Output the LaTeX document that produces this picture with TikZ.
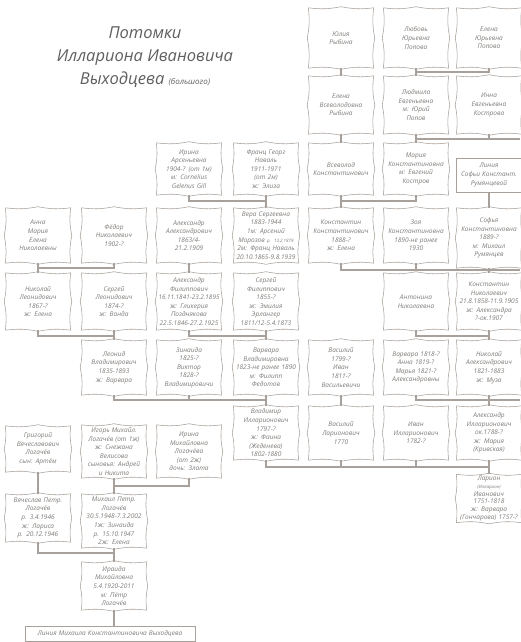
\documentclass[tikz,border=0pt]{standalone}
\usepackage{fontspec}
\setmainfont{Open Sans}
\usepackage{graphicx}
\definecolor{ln}{RGB}{168,160,154}
\definecolor{tx}{RGB}{128,124,120}
\definecolor{tt}{RGB}{95,95,95}
\newsavebox\fitbox
\newcommand\fl[1]{\sbox\fitbox{#1}\ifdim\wd\fitbox>61pt\resizebox{61pt}{!}{\usebox\fitbox}\else\usebox\fitbox\fi}
\newcommand\scroll[1]{%
  \draw[frame] (#1.north west) to[bend right=9] ([yshift=1.1pt]#1.north) to[bend right=9] (#1.north east)
    to[bend right=9] ([xshift=1.1pt]#1.east) to[bend right=9] (#1.south east)
    to[bend right=9] ([yshift=-1.1pt]#1.south) to[bend right=9] (#1.south west)
    to[bend right=9] ([xshift=-1.1pt]#1.west) to[bend right=9] (#1.north west);}
\begin{document}
\begin{tikzpicture}[x=1pt,y=-1pt,
  pbox/.style={text width=62pt, minimum width=65pt, inner sep=1pt, align=center, text=tx,
    font=\fontsize{6.5}{8.6}\selectfont\itshape},
  lbox/.style={pbox, draw=ln, line width=0.6pt},
  conn/.style={draw=ln, line width=1.1pt},
  frame/.style={draw=ln, line width=0.55pt},
  titlestyle/.style={align=center, text=tt, font=\fontsize{16.5}{23}\selectfont\itshape}]
\fill[white] (0,0) rectangle (520,642);
\useasboundingbox (0,0) rectangle (520,642);

% title
\node[titlestyle] (title) at (145,57) {Потомки\\Иллариона Ивановича\\Выходцева {\fontsize{8}{10}\selectfont (большого)}};

% row 1
\node[pbox, minimum height=60pt] (julia) at (341,38) {Юлия\\Рыбина};
\node[pbox, minimum height=60pt] (lyubov) at (416,38) {Любовь\\Юрьевна\\Попова};
\node[pbox, minimum height=60pt] (elenaYu) at (489,38) {Елена\\Юрьевна\\Попова};
% row 2
\node[pbox, minimum height=58pt] (elenaV) at (341,105) {Елена\\Всеволодовна\\Рыбина};
\node[pbox, minimum height=58pt] (lyudmila) at (416,105) {Людмила\\Евгеньевна\\м: Юрий\\Попов};
\node[pbox, minimum height=58pt] (inna) at (489,105) {Инна\\Евгеньевна\\Кострова};
% row 3
\node[pbox, minimum height=52pt] (irina) at (189,169) {Ирина\\Арсеньевна\\1904-? (от 1м)\\м: Cornelius\\Gelenus Gill};
\node[pbox, minimum height=52pt] (franz) at (266,169) {Франц Георг\\Наваль\\1911-1971\\(от 2м)\\ж: Элиза};
\node[pbox, minimum height=52pt] (vsevolod) at (341,169) {Всеволод\\Константинович};
\node[pbox, minimum height=52pt] (maria) at (416,169) {Мария\\Константиновна\\м: Евгений\\Костров};
\node[lbox, minimum height=34pt] (liniyaS) at (489,175) {Линия\\Софьи Констант.\\Румянцевой};
% row 4
\node[pbox, minimum height=55pt] (anna) at (38,235.5) {Анна\\Мария\\Елена\\Николаевны};
\node[pbox, minimum height=55pt] (fedor) at (114,235.5) {Фёдор\\Николаевич\\1902-?};
\node[pbox, minimum height=55pt] (alexA) at (189,235.5) {Александр\\Александрович\\1863/4-\\21.2.1909};
\node[pbox, minimum height=55pt] (vera) at (266,235.5) {Вера Сергеевна\\1883-1944\\1м: Арсений\\\fl{Морозов {\fontsize{4.5}{5}\selectfont р. 13.2.1879}}\\\fl{2м: Франц Наваль}\\\fl{20.10.1865-9.8.1939}};
\node[pbox, minimum height=55pt] (konstK) at (341,235.5) {Константин\\Константинович\\1888-?\\ж: Елена};
\node[pbox, minimum height=55pt] (zoya) at (416,235.5) {Зоя\\Константиновна\\1890-не ранее\\1930};
\node[pbox, minimum height=60pt] (sofya) at (489,238) {Софья\\Константиновна\\1889-?\\м: Михаил\\Румянцев};
% row 5
\node[pbox, minimum height=57pt] (nikolayL) at (38,301.5) {Николай\\Леонидович\\1867-?\\ж: Елена};
\node[pbox, minimum height=57pt] (sergeyL) at (114,301.5) {Сергей\\Леонидович\\1874-?\\ж: Ванда};
\node[pbox, minimum height=57pt] (alexF) at (189,301.5) {Александр\\Филиппович\\\fl{16.11.1841-23.2.1895}\\ж: Гликерия\\Позднякова\\\fl{22.5.1846-27.2.1925}};
\node[pbox, minimum height=57pt] (sergeyF) at (266,301.5) {Сергей\\Филиппович\\1855-?\\ж: Эмилия\\Эрлангер\\\fl{1811/12-5.4.1873}};
\node[pbox, minimum height=57pt] (antonina) at (416,301.5) {Антонина\\Николаевна};
\node[pbox, minimum height=57pt] (konstN) at (489,301.5) {Константин\\Николаевич\\\fl{21.8.1858-11.9.1905}\\ж: Александра\\?-ок.1907};
% row 6
\node[pbox, minimum height=55pt] (leonid) at (114,367.5) {Леонид\\Владимирович\\1835-1893\\ж: Варвара};
\node[pbox, minimum height=55pt] (zinaida) at (189,367.5) {Зинаида\\1825-?\\Виктор\\1828-?\\Владимировичи};
\node[pbox, minimum height=55pt] (varvaraV) at (266,367.5) {Варвара\\Владимировна\\\fl{1823-не ранее 1890}\\м: Филипп\\Федотов};
\node[pbox, minimum height=55pt] (vasily) at (341,367.5) {Василий\\1799-?\\Иван\\1811-?\\Васильевичи};
\node[pbox, minimum height=55pt] (varvaraA) at (416,367.5) {Варвара 1818-?\\Анна 1819-?\\Марья 1821-?\\Александровны};
\node[pbox, minimum height=55pt] (nikolayA) at (489,367.5) {Николай\\Александрович\\1821-1883\\ж: Муза};
% row 7
\node[pbox, minimum height=54pt] (vladimir) at (266,433) {Владимир\\Илларионович\\1797-?\\ж: Фаина\\(Жеденева)\\1802-1880};
\node[pbox, minimum height=54pt] (vasilyL) at (341,433) {Василий\\Ларионович\\1770};
\node[pbox, minimum height=54pt] (ivan) at (416,433) {Иван\\Илларионович\\1782-?};
\node[pbox, minimum height=54pt] (alexI) at (489,433) {Александр\\Илларионович\\ок.1788-?\\ж: Мария\\(Кривская)};
% left lower block
\node[pbox, minimum height=46pt] (grigory) at (38,449) {Григорий\\Вячеславович\\Логачёв\\сын: Артём};
\node[pbox, minimum height=53pt] (igor) at (114,451.5) {Игорь Михайл.\\\fl{Логачёв (от 1ж)}\\ж: Снежана\\Велисова\\\fl{сыновья: Андрей}\\и Никита};
\node[pbox, minimum height=53pt] (irinaM) at (189,451.5) {Ирина\\Михайловна\\Логачёва\\(от 2ж)\\дочь: Злата};
\node[pbox, minimum height=48pt, font=\fontsize{6.5}{7.8}\selectfont\itshape] (larion) at (489,498.5) {Ларион\\{\fontsize{4.5}{5}\selectfont (Илларион)}\\Иванович\\1751-1818\\ж: Варвара\\\fl{(Гончарова) 1757-?}};
\node[pbox, minimum height=48pt] (vyach) at (38,518) {Вячеслав Петр.\\Логачёв\\р. 3.4.1946\\ж: Лариса\\р. 20.12.1946};
\node[pbox, minimum height=54pt] (mikhail) at (114,521) {Михаил Петр.\\Логачёв\\\fl{30.5.1948-7.3.2002}\\1ж: Зинаида\\р. 15.10.1947\\2ж: Елена};
\node[pbox, minimum height=48pt] (iraida) at (114,586) {Ираида\\Михайловна\\5.4.1920-2011\\м: Пётр\\Логачёв};
\node[lbox, text width=168pt, minimum width=170pt, minimum height=15pt, inner sep=1pt] (liniyaM) at (110,633.5) {Линия Михаила Константиновича Выходцева};

% scroll frames
\foreach \n in {julia,lyubov,elenaYu,elenaV,lyudmila,inna,irina,franz,vsevolod,maria,
  anna,fedor,alexA,vera,konstK,zoya,sofya,nikolayL,sergeyL,alexF,sergeyF,antonina,konstN,
  leonid,zinaida,varvaraV,vasily,varvaraA,nikolayA,vladimir,vasilyL,ivan,alexI,
  grigory,igor,irinaM,larion,vyach,mikhail,iraida}{\scroll{\n}}

% junction coordinates
\coordinate (j1) at (416,72);
\coordinate (e0) at (520,139);
\coordinate (j3) at (266,201);
\coordinate (j4) at (341,201);
\coordinate (j5) at (38,268);
\coordinate (e1) at (520,270);
\coordinate (j6) at (114,336);
\coordinate (j7) at (266,336);
\coordinate (j8) at (489,336);
\coordinate (j9) at (266,400);
\coordinate (e2) at (520,400);
\coordinate (j10) at (489,467);
\coordinate (j11) at (114,486);
\coordinate (j12) at (114,553);

% connectors
\draw[conn] (julia.south) -- (elenaV.north);
\draw[conn] (lyubov.south) -- (lyudmila.north);
\draw[conn] (elenaYu.south) |- (j1);
\draw[conn] (elenaV.south) -- (vsevolod.north);
\draw[conn] (lyudmila.south) -- (maria.north);
\draw[conn] (maria.north) |- (e0);
\draw[conn] (inna.south) -- (inna.south |- e0);
\draw[conn] (irina.south) |- (j3);
\draw[conn] (franz.south) -- (vera.north);
\draw[conn] (vsevolod.south) -- (konstK.north);
\draw[conn] (maria.south) |- (j4);
\draw[conn] (liniyaS.south) -- (sofya.north);
\draw[conn] (anna.south) -- (nikolayL.north);
\draw[conn] (fedor.south) |- (j5);
\draw[conn] (alexA.south) -- (alexF.north);
\draw[conn] (konstK.south) |- (e1);
\draw[conn] (zoya.south) -- (zoya.south |- e1);
\draw[conn] (sofya.south) -- (konstN.north);
\draw[conn] (nikolayL.south) |- (j6);
\draw[conn] (sergeyL.south) -- (leonid.north);
\draw[conn] (alexF.south) |- (j7);
\draw[conn] (sergeyF.south) -- (varvaraV.north);
\draw[conn] (antonina.south) |- (j8);
\draw[conn] (konstN.south) -- (nikolayA.north);
\draw[conn] (leonid.south) |- (j9);
\draw[conn] (zinaida.south) -- (zinaida.south |- j9);
\draw[conn] (varvaraV.south) -- (vladimir.north);
\draw[conn] (vasily.south) -- (vasilyL.north);
\draw[conn] (varvaraA.south) |- (e2);
\draw[conn] (nikolayA.south) -- (alexI.north);
\draw[conn] (vladimir.south) |- (j10);
\draw[conn] (vasilyL.south) -- (vasilyL.south |- j10);
\draw[conn] (ivan.south) -- (ivan.south |- j10);
\draw[conn] (alexI.south) -- (larion.north);
\draw[conn] (grigory.south) -- (vyach.north);
\draw[conn] (irinaM.south) |- (j11);
\draw[conn] (igor.south) -- (mikhail.north);
\draw[conn] (vyach.south) |- (j12);
\draw[conn] (mikhail.south) -- (iraida.north);
\draw[conn] (iraida.south) -- (iraida.south |- liniyaM.north);
\end{tikzpicture}
\end{document}
